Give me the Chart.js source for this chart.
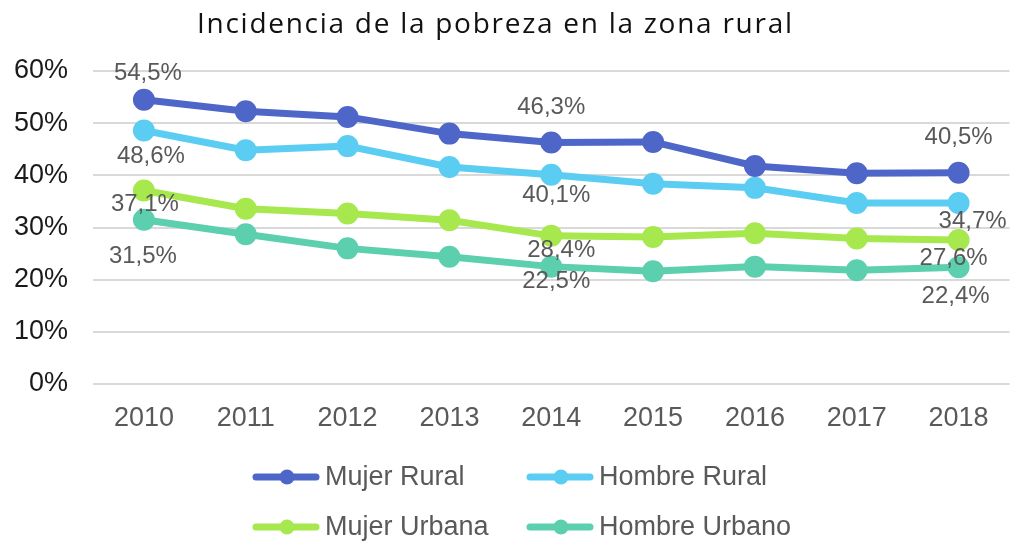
<!DOCTYPE html>
<html>
<head>
<meta charset="utf-8">
<script src="https://cdn.jsdelivr.net/npm/chart.js@4/dist/chart.umd.min.js"></script>
<style>
html,body{margin:0;padding:0;background:#fff;overflow:hidden;width:1010px;height:541px;}
#wrap{width:1024px;height:541px;}
</style>
</head>
<body>
<div id="wrap"><canvas id="c" width="1024" height="541"></canvas></div>
<script>
// ---- data ----
const chartTitle = 'Incidencia de la pobreza en la zona rural';
const years = ['2010','2011','2012','2013','2014','2015','2016','2017','2018'];
const seriesNames = ['Mujer Rural','Hombre Rural','Mujer Urbana','Hombre Urbano'];
const mujerRural   = [54.5, 52.3, 51.2, 48.0, 46.3, 46.4, 41.8, 40.4, 40.5];
const hombreRural  = [48.6, 44.8, 45.6, 41.6, 40.1, 38.4, 37.6, 34.7, 34.7];
const mujerUrbana  = [37.1, 33.6, 32.7, 31.4, 28.4, 28.2, 28.9, 27.9, 27.6];
const hombreUrbano = [31.5, 28.7, 26.0, 24.4, 22.5, 21.6, 22.5, 21.8, 22.4];
const yTicks = [0, 10, 20, 30, 40, 50, 60];

// ---- styles ----
const colors = ['#4f66c9', '#5bcdf3', '#a6e84d', '#5ccfae'];
const FONT = '"Liberation Sans", Arial, sans-serif';
// which points carry a value label, and where (offsets in px from the point)
const labelSpots = [
  {ds:0, i:0, dx:4,  dy:-26}, {ds:0, i:4, dx:0,  dy:-35}, {ds:0, i:8, dx:0,  dy:-35},
  {ds:1, i:0, dx:7,  dy:26},  {ds:1, i:4, dx:5,  dy:21},  {ds:1, i:8, dx:14, dy:18},
  {ds:2, i:0, dx:1,  dy:14},  {ds:2, i:4, dx:10, dy:15},  {ds:2, i:8, dx:-5, dy:18},
  {ds:3, i:0, dx:-1, dy:37},  {ds:3, i:4, dx:5,  dy:15},  {ds:3, i:8, dx:-3, dy:29}
];

const allSeries = [mujerRural, hombreRural, mujerUrbana, hombreUrbano];

const titlePlugin = {
  id: 'customTitle',
  afterDraw(chart) {
    const ctx = chart.ctx;
    ctx.save();
    ctx.font = '400 28px "Open Sans", sans-serif';
    const targetW = 595;
    const w0 = ctx.measureText(chartTitle).width;
    const sp = Math.max(0, (targetW - w0) / (chartTitle.length - 1));
    try { ctx.letterSpacing = sp.toFixed(2) + 'px'; } catch (e) {}
    ctx.fillStyle = '#111';
    ctx.textAlign = 'center';
    ctx.textBaseline = 'alphabetic';
    ctx.fillText(chartTitle, 494.5 + sp / 2, 33);
    ctx.restore();
  }
};

const valueLabels = {
  id: 'valueLabels',
  afterDatasetsDraw(chart) {
    const ctx = chart.ctx;
    ctx.save();
    ctx.font = '24px ' + FONT;
    ctx.fillStyle = '#595959';
    ctx.textAlign = 'center';
    ctx.textBaseline = 'middle';
    labelSpots.forEach(s => {
      const pt = chart.getDatasetMeta(s.ds).data[s.i];
      const v = chart.data.datasets[s.ds].data[s.i];
      const txt = v.toFixed(1).replace('.', ',') + '%';
      ctx.fillText(txt, pt.x + s.dx, pt.y + s.dy);
    });
    ctx.restore();
  }
};

const legendPlugin = {
  id: 'gridLegend',
  afterDraw(chart) {
    const ctx = chart.ctx;
    const colX = [253, 527];
    const rowY = [477, 527];
    ctx.save();
    chart.data.datasets.forEach((ds, k) => {
      const x = colX[k % 2], y = rowY[Math.floor(k / 2)];
      ctx.strokeStyle = ds.borderColor;
      ctx.lineWidth = 7;
      ctx.lineCap = 'round';
      ctx.beginPath();
      ctx.moveTo(x + 3, y);
      ctx.lineTo(x + 63, y);
      ctx.stroke();
      ctx.fillStyle = ds.borderColor;
      ctx.beginPath();
      ctx.arc(x + 34, y, 7.5, 0, Math.PI * 2);
      ctx.fill();
      ctx.fillStyle = '#595959';
      ctx.font = '27px ' + FONT;
      ctx.textAlign = 'left';
      ctx.textBaseline = 'middle';
      ctx.fillText(ds.label, x + 72, y + 1);
    });
    ctx.restore();
  }
};

new Chart(document.getElementById('c'), {
  type: 'line',
  data: {
    labels: years,
    datasets: allSeries.map((d, k) => ({
      label: seriesNames[k],
      data: d,
      borderColor: colors[k],
      backgroundColor: colors[k],
      pointBackgroundColor: colors[k],
      pointBorderColor: colors[k],
      borderWidth: 7,
      pointRadius: 7.5,
      pointHoverRadius: 7.5,
      tension: 0,
      fill: false
    }))
  },
  options: {
    responsive: false,
    animation: false,
    events: [],
    layout: { padding: { top: 71, right: 10, bottom: 0, left: 0 } },
    plugins: { legend: { display: false }, title: { display: false }, tooltip: { enabled: false } },
    scales: {
      x: {
        offset: true,
        grid: { display: false, drawTicks: false },
        border: { display: false },
        ticks: { color: '#595959', font: { family: FONT, size: 27 }, padding: 18, maxRotation: 0 },
        afterFit(scale) { scale.height = 157; }
      },
      y: {
        min: 0, max: 60,
        afterBuildTicks(scale) { scale.ticks = yTicks.map(v => ({ value: v })); },
        grid: { color: '#d9d9d9', lineWidth: 2, drawTicks: false },
        border: { display: false },
        ticks: { color: '#1a1a1a', font: { family: FONT, size: 27 }, padding: 25,
                 callback: v => v + '%' },
        afterFit(scale) { scale.width = 93; }
      }
    }
  },
  plugins: [titlePlugin, valueLabels, legendPlugin]
});
</script>
</body>
</html>
